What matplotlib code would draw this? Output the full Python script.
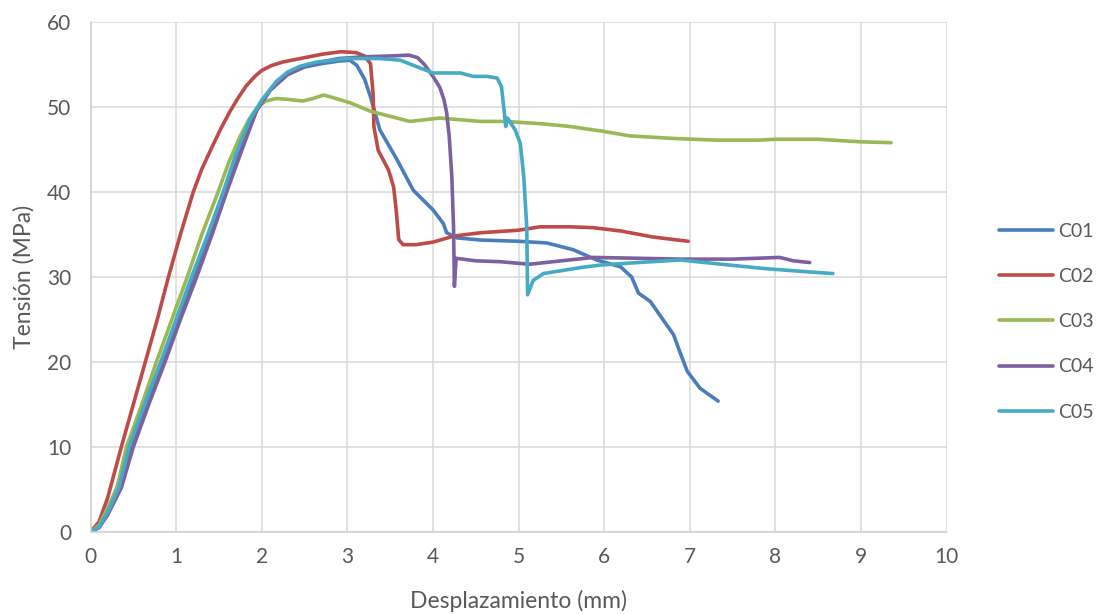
import matplotlib
matplotlib.use("Agg")
import matplotlib.pyplot as plt

########## DATA ##########
series_names = ["C01", "C02", "C03", "C04", "C05"]

c01_x = [0, 0.1, 0.2, 0.3, 0.47, 0.65, 0.84, 1.0, 1.21, 1.4, 1.57, 1.75, 1.94, 2.1, 2.3, 2.5,
         2.7, 2.9, 3.03, 3.11, 3.2, 3.27, 3.38, 3.58, 3.77, 4.0, 4.12, 4.16, 4.28, 4.55, 5.0,
         5.33, 5.64, 5.91, 6.19, 6.32, 6.4, 6.54, 6.65, 6.81, 6.89, 6.97, 7.06, 7.12, 7.33]
c01_y = [0, 0.7, 2.5, 5, 10, 14.7, 20, 24, 30, 35.3, 40, 45, 49.6, 52, 53.8, 54.7,
         55.1, 55.4, 55.5, 54.9, 53.3, 51.2, 47.3, 43.8, 40.2, 37.9, 36.3, 35.2, 34.6, 34.35, 34.2,
         34.0, 33.2, 32.0, 31.2, 30.0, 28.1, 27.1, 25.5, 23.2, 21.0, 18.9, 17.7, 16.9, 15.4]

c02_x = [0, 0.1, 0.2, 0.36, 0.5, 0.64, 0.78, 0.91, 1.05, 1.2, 1.3, 1.42, 1.52, 1.63, 1.72,
         1.82, 1.92, 2.0, 2.12, 2.25, 2.5, 2.7, 2.92, 3.1, 3.2, 3.27, 3.3, 3.31, 3.36, 3.48,
         3.54, 3.57, 3.6, 3.65, 3.8, 4.0, 4.24, 4.55, 5.0, 5.25, 5.6, 5.87, 6.2, 6.57, 6.98]
c02_y = [0, 1.2, 4, 10, 15, 20, 25, 30, 35, 40, 42.7, 45.3, 47.4, 49.5, 51.0,
         52.5, 53.6, 54.3, 54.9, 55.3, 55.8, 56.2, 56.5, 56.4, 56.0, 55.1, 51.6, 47.7, 44.9, 42.6,
         40.6, 37.9, 34.4, 33.8, 33.8, 34.1, 34.8, 35.2, 35.5, 35.9, 35.9, 35.8, 35.4, 34.7, 34.2]

c03_x = [0, 0.1, 0.2, 0.31, 0.42, 0.6, 0.77, 0.95, 1.13, 1.3, 1.49, 1.62, 1.75, 1.85, 1.93,
         1.98, 2.05, 2.17, 2.3, 2.48, 2.6, 2.72, 2.8, 3.03, 3.27, 3.5, 3.73, 4.08, 4.55, 4.86,
         5.0, 5.3, 5.6, 5.95, 6.3, 6.8, 7.3, 7.8, 8.0, 8.5, 9.0, 9.35]
c03_y = [0, 0.8, 2.8, 5.2, 10, 15, 20, 25, 30, 35, 40, 43.6, 46.6, 48.5, 49.7,
         50.2, 50.7, 51.0, 50.9, 50.7, 51.0, 51.4, 51.2, 50.5, 49.5, 48.9, 48.3, 48.7, 48.3, 48.3,
         48.2, 48.0, 47.7, 47.2, 46.6, 46.3, 46.1, 46.1, 46.2, 46.2, 45.9, 45.8]

c04_x = [0, 0.1, 0.2, 0.36, 0.5, 0.68, 0.87, 1.05, 1.24, 1.42, 1.59, 1.77, 1.94, 2.1, 2.3,
         2.5, 2.7, 2.9, 3.18, 3.5, 3.72, 3.82, 3.9, 4.0, 4.08, 4.13, 4.16, 4.19, 4.22, 4.24,
         4.25, 4.27, 4.5, 4.78, 5.13, 5.5, 5.87, 6.4, 6.89, 7.5, 8.05, 8.21, 8.4]
c04_y = [0, 0.5, 2, 5.2, 10, 15, 20, 25, 30, 35, 40, 45, 49.6, 52, 53.8,
         54.8, 55.3, 55.7, 55.9, 56.0, 56.1, 55.8, 55.0, 53.6, 52.3, 50.8, 49.3, 46.5, 41.8, 35.9,
         28.9, 32.2, 31.9, 31.8, 31.5, 31.9, 32.3, 32.2, 32.1, 32.1, 32.3, 31.9, 31.7]

c05_x = [0, 0.1, 0.2, 0.33, 0.45, 0.63, 0.82, 1.0, 1.18, 1.37, 1.55, 1.7, 1.86, 2.0, 2.17,
         2.3, 2.45, 2.65, 2.83, 2.99, 3.38, 3.62, 3.77, 4.0, 4.32, 4.47, 4.63, 4.75, 4.8, 4.83,
         4.85, 4.87, 4.96, 5.02, 5.06, 5.095, 5.105, 5.17, 5.29, 5.72, 5.95, 6.4, 6.89, 7.27,
         7.86, 8.25, 8.67]
c05_y = [0, 0.6, 2.3, 5.2, 10, 15, 20, 25, 30, 35, 40, 44.5, 48.5, 50.8, 53.0,
         54.1, 54.8, 55.3, 55.5, 55.7, 55.7, 55.5, 54.9, 54.0, 54.0, 53.6, 53.6, 53.4, 52.4, 49.6,
         47.7, 48.7, 47.3, 45.7, 41.8, 35.9, 27.9, 29.6, 30.4, 31.1, 31.4, 31.7, 32.0, 31.6,
         31.0, 30.7, 30.4]

x_ticks = [0, 1, 2, 3, 4, 5, 6, 7, 8, 9, 10]
y_ticks = [0, 10, 20, 30, 40, 50, 60]

########## STYLE ##########
colors = ["#4A7EBB", "#BE4B48", "#98B954", "#7D60A0", "#46AAC5"]
txt = "#595959"
plt.rcParams['font.family'] = ['Lato', 'DejaVu Sans']

fig = plt.figure(figsize=(10.97, 6.14), dpi=100)
ax = fig.add_axes([0.0825, 0.1336, 0.7805, 0.8306])

xs = [c01_x, c02_x, c03_x, c04_x, c05_x]
ys = [c01_y, c02_y, c03_y, c04_y, c05_y]
for x, y, c, name in zip(xs, ys, colors, series_names):
    ax.plot(x, y, color=c, lw=2.6, label=name, solid_joinstyle='round', solid_capstyle='round')

ax.set_xlim(0, 10)
ax.set_ylim(0, 60)
ax.set_xticks(x_ticks)
ax.set_yticks(y_ticks)
ax.grid(True, color="#d9d9d9", lw=1.1)
ax.set_axisbelow(True)
for s in ["top", "right"]:
    ax.spines[s].set_visible(False)
for s in ["left", "bottom"]:
    ax.spines[s].set_color("#d0d0d0")
    ax.spines[s].set_linewidth(1.1)
ax.tick_params(length=0, labelsize=15, labelcolor=txt)
ax.tick_params(axis='x', pad=11)
ax.tick_params(axis='y', pad=14)

ax.set_xlabel("Desplazamiento (mm)", fontsize=16.5, color=txt, labelpad=16)
ax.set_ylabel("Tensión (MPa)", fontsize=16.5, color=txt, labelpad=9)

leg = fig.legend(loc="center left", bbox_to_anchor=(0.895, 0.476), frameon=False,
                 fontsize=14, handlelength=2.75, labelspacing=1.45, handletextpad=0.3)
for t in leg.get_texts():
    t.set_color(txt)

plt.savefig("out.png", dpi=100)
